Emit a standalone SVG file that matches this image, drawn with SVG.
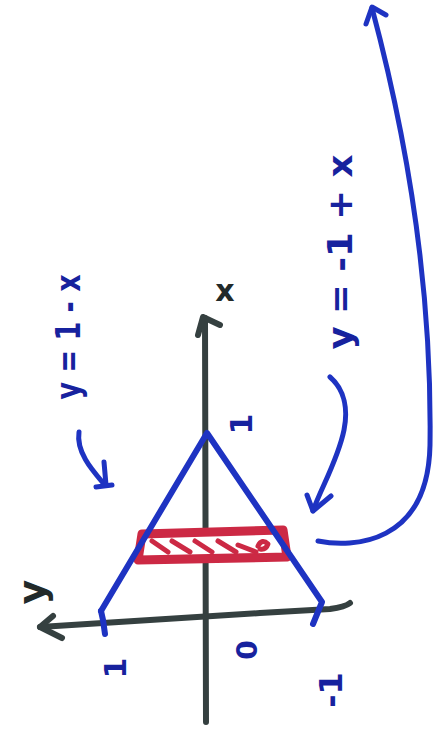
<svg xmlns="http://www.w3.org/2000/svg" width="433" height="732" viewBox="0 0 433 732">
<style>
.ax{fill:none;stroke:#354040;stroke-width:6;stroke-linecap:round;stroke-linejoin:round}
.bl{fill:none;stroke:#1e33c2;stroke-width:6;stroke-linecap:round;stroke-linejoin:round}
.ar{fill:none;stroke:#1e33c2;stroke-width:5;stroke-linecap:round;stroke-linejoin:round}
.rd{stroke:#cc2944;stroke-linecap:round;stroke-linejoin:round}
.lb{font-family:"DejaVu Sans",sans-serif;font-weight:bold;fill:#17229e;text-anchor:middle;dominant-baseline:central}
.dk{font-family:"DejaVu Sans",sans-serif;font-weight:bold;fill:#222a2a;text-anchor:middle;dominant-baseline:central}
</style>
<rect width="433" height="732" fill="#ffffff"/>
<g id="axes">
<path class="ax" d="M206,722 L205,318"/>
<path class="ax" d="M198,335 L203,317 L220,325"/>
<path class="ax" d="M350,603 Q345,607 330,609 L260,613 L150,620 L40,627"/>
<path class="ax" d="M53,616 L40,627 L62,638"/>
</g>
<g id="band">
<polygon class="rd" points="142,534 283,530 287,557 138,560" fill="#ffffff" stroke-width="9"/>
<g class="rd" stroke-width="5" fill="none">
<path d="M152,541 L168,552"/>
<path d="M172,541 L190,552"/>
<path d="M195,541 L212,552"/>
<path d="M218,541 L236,552"/>
<path d="M238,545 L256,552"/>
<path d="M258,546 Q262,538 268,544 Q266,550 260,549"/>
</g>
</g>
<g id="triangle">
<path class="bl" d="M101,611 L207,433 L322,602 L313,624"/>
<path class="bl" d="M101,611 L103,620 L105,634"/>
</g>
<g id="connectors">
<path class="ar" d="M318,541 C352,548 428,545 430,445 C432,300 410,150 372,8"/>
<path class="ar" d="M366,24 L372,7 L386,15"/>
<path class="ar" d="M79,432 C76,452 92,470 104,484"/>
<path class="ar" d="M104,462 L106,485 M96,487 L112,485"/>
<path class="ar" d="M330,377 C345,390 348,410 344,430 C338,460 320,490 313,511"/>
<path class="ar" d="M307,495 L313,511 L331,496"/>
</g>
<g id="label-x"><text class="dk" x="225" y="290" font-size="30">x</text></g>
<g id="label-y"><text class="dk" transform="translate(32,592) rotate(-90)" font-size="38">y</text></g>
<g id="label-left"><text class="lb" transform="translate(68,337) rotate(-90)" font-size="34" textLength="125" lengthAdjust="spacingAndGlyphs">y = 1 - x</text></g>
<g id="label-right"><text class="lb" transform="translate(340,252) rotate(-90)" font-size="34" textLength="195" lengthAdjust="spacingAndGlyphs">y = -1 + x</text></g>
<g id="tick-top"><text class="lb" transform="translate(241,424) rotate(-90)" font-size="30">1</text></g>
<g id="tick-left"><text class="lb" transform="translate(115,668) rotate(-90)" font-size="30">1</text></g>
<g id="tick-right"><text class="lb" transform="translate(331,690) rotate(-90)" font-size="32">-1</text></g>
<g id="origin"><text class="lb" transform="translate(247,650) rotate(-90)" font-size="28">0</text></g>
</svg>
